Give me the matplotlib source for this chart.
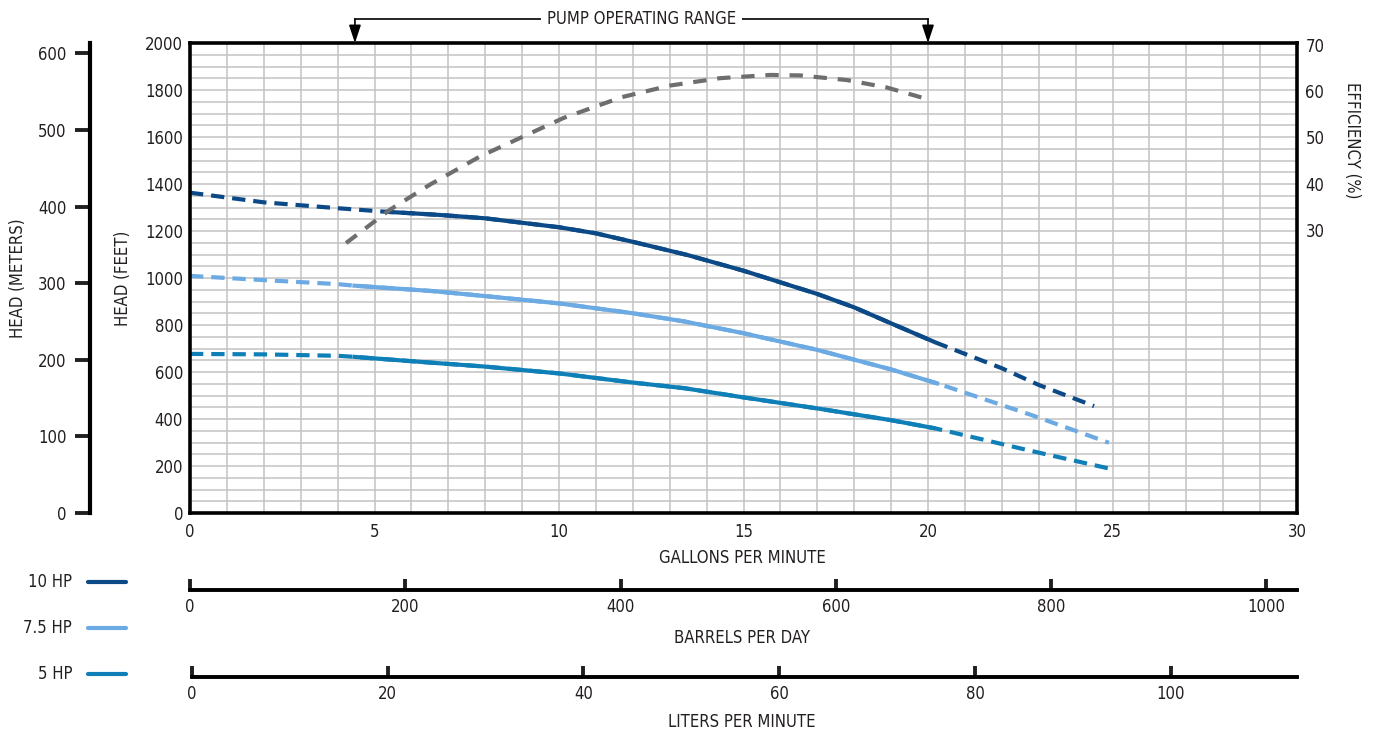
import matplotlib
matplotlib.use('Agg')
import matplotlib.pyplot as plt
import matplotlib.transforms as mtransforms
from matplotlib import font_manager
import numpy as np

''' Chart data (read off the pump curve) '''

# Head curves: flow in gallons per minute, head in feet
hp10_gpm = [0, 2, 4, 5.3, 6.8, 8, 10, 11, 12, 13.5, 15, 17, 18, 19, 20.2, 22, 23, 24.5]
hp10_head = [1363, 1322, 1297, 1282, 1268, 1254, 1216, 1190, 1154, 1097, 1031, 932, 875, 807, 726, 616, 545, 455]

hp75_gpm = [0, 2, 4, 4.4, 6.6, 8, 10, 12, 13.4, 15, 17, 19, 20.3, 22.8, 24.9]
hp75_head = [1009, 991, 974, 968, 944, 923, 892, 850, 815, 765, 694, 611, 549, 417, 299]

hp5_gpm = [0, 2, 4, 4.4, 6.6, 8, 10, 12, 13.4, 15, 17, 19, 20.2, 22.8, 25]
hp5_head = [677, 675, 669, 665, 639, 623, 594, 555, 531, 492, 445, 395, 360, 264, 186]

# Portion of each curve drawn solid (gpm)
hp10_solid = (5.3, 20.2)
hp75_solid = (4.4, 20.3)
hp5_solid = (4.4, 20.2)

# Efficiency curve (%)
eff_gpm = [4.23, 5.42, 6.5, 7.86, 9.03, 10.12, 11.7, 13.0, 14.36, 15.72, 16.53, 17.8, 18.88, 19.97]
eff_pct = [27.2, 34.4, 39.8, 45.9, 50.2, 54.2, 58.7, 61.2, 62.8, 63.5, 63.4, 62.4, 60.8, 58.3]

operating_range = [4.47, 20.0]

legend_labels = ['10 HP', '7.5 HP', '5 HP']
colors = ['#0b4a86', '#6caae4', '#0f7fb8']
eff_color = '#6e6e6e'
text_color = '#231f20'

gpm_ticks = [0, 5, 10, 15, 20, 25, 30]
feet_ticks = [0, 200, 400, 600, 800, 1000, 1200, 1400, 1600, 1800, 2000]
meter_ticks = [0, 100, 200, 300, 400, 500, 600]
eff_ticks = [30, 40, 50, 60, 70]
bpd_ticks = [0, 200, 400, 600, 800, 1000]
lpm_ticks = [0, 20, 40, 60, 80, 100]


''' Font: the original uses a condensed face, take one if there is any '''
installed = font_manager.fontManager.ttflist
names = set(f.name for f in installed)
fsize = 13
if 'Liberation Sans Narrow' in names:
    plt.rcParams['font.family'] = ['Liberation Sans Narrow', 'DejaVu Sans']
elif any(f.name == 'DejaVu Sans' and f.stretch == 'condensed' for f in installed):
    plt.rcParams['font.family'] = ['DejaVu Sans']
    plt.rcParams['font.stretch'] = 'condensed'
    fsize = 12
else:
    plt.rcParams['font.family'] = ['Roboto', 'DejaVu Sans']
    fsize = 11.5
plt.rcParams['font.size'] = fsize
plt.rcParams['text.color'] = text_color
plt.rcParams['xtick.color'] = text_color
plt.rcParams['ytick.color'] = text_color

W, H = 1377, 735
fig = plt.figure(figsize=(W / 100, H / 100), dpi=100)


def box(left, top, right, bottom):
    # pixel box -> figure fraction [l, b, w, h]
    return [left / W, 1 - bottom / H, (right - left) / W, (bottom - top) / H]


def fpos(x, y):
    return x / W, 1 - y / H


''' Main head axes '''
ax = fig.add_axes(box(190, 43, 1297, 513))
ax.set_xlim(0, 30)
ax.set_ylim(0, 2000)
ax.set_xticks(gpm_ticks)
ax.set_xticks(np.arange(0, 31, 1), minor=True)
ax.set_yticks(feet_ticks)
ax.set_yticks(np.arange(0, 2001, 50), minor=True)
ax.grid(which='both', color='#c2c2c2', linewidth=1.1, zorder=0)
ax.tick_params(which='both', length=0)
ax.tick_params(axis='x', pad=7)
ax.tick_params(axis='y', pad=5)
for s in ax.spines.values():
    s.set_linewidth(2.6)
    s.set_color('black')
    s.set_zorder(5)

# Head curves: dashed overall, solid inside the operating part
series = [(hp10_gpm, hp10_head, hp10_solid),
          (hp75_gpm, hp75_head, hp75_solid),
          (hp5_gpm, hp5_head, hp5_solid)]
for (g, h, solid), c in zip(series, colors):
    g = np.array(g)
    h = np.array(h)
    ax.plot(g, h, color=c, lw=3, dashes=(3.2, 1.9), zorder=3)
    m = (g >= solid[0]) & (g <= solid[1])
    ax.plot(g[m], h[m], color=c, lw=3, solid_capstyle='butt',
            solid_joinstyle='round', zorder=4)

# Efficiency on the right
ax2 = ax.twinx()
ax2.set_ylim(-31.1, 70.4)
ax2.set_yticks(eff_ticks)
ax2.tick_params(length=0, pad=6)
for s in ax2.spines.values():
    s.set_visible(False)
ax2.plot(eff_gpm, eff_pct, color=eff_color, lw=3, dashes=(3.2, 2.6), zorder=3)

# Pump operating range marker above the plot
trans = mtransforms.blended_transform_factory(ax.transData, ax.transAxes)
ytop = 1.0511
ax.plot(operating_range, [ytop, ytop], transform=trans, clip_on=False,
        color='black', lw=1.2)
for xr in operating_range:
    ax.annotate('', xy=(xr, 1.0), xytext=(xr, ytop), xycoords=trans, textcoords=trans,
                arrowprops=dict(arrowstyle='-|>,head_length=0.9,head_width=0.3',
                                color='black', lw=1.2, shrinkA=0, shrinkB=0))
ax.text(np.mean(operating_range), ytop, 'PUMP OPERATING RANGE', transform=trans,
        ha='center', va='center',
        bbox=dict(facecolor='white', edgecolor='none', pad=4))

''' Head in meters axis '''
axm = fig.add_axes(box(90, 43, 91, 513))
axm.set_ylim(0, 613.5)
axm.set_yticks(meter_ticks)
axm.set_xticks([])
for k in ['top', 'right', 'bottom']:
    axm.spines[k].set_visible(False)
axm.spines['left'].set_linewidth(3)
axm.patch.set_alpha(0)
axm.tick_params(axis='y', direction='out', length=11, width=2.8, pad=6)

''' Barrels per day and liters per minute axes '''
axb = fig.add_axes(box(190, 580, 1297, 590))
axb.set_xlim(0, 30 * 1440 / 42)
axb.set_xticks(bpd_ticks)
axb.set_yticks([])

axl = fig.add_axes(box(192, 667, 1297, 677))
axl.set_xlim(0, 112.9)
axl.set_xticks(lpm_ticks)
axl.set_yticks([])

for a in [axb, axl]:
    for k in ['top', 'right', 'left']:
        a.spines[k].set_visible(False)
    a.spines['bottom'].set_linewidth(2.8)
    a.patch.set_alpha(0)
    a.tick_params(axis='x', direction='in', length=8, width=2.8, pad=6)

''' Axis titles '''
fig.text(*fpos(742, 558), 'GALLONS PER MINUTE', ha='center', va='center')
fig.text(*fpos(742, 638), 'BARRELS PER DAY', ha='center', va='center')
fig.text(*fpos(742, 722), 'LITERS PER MINUTE', ha='center', va='center')
fig.text(*fpos(123, 278), 'HEAD (FEET)', ha='center', va='center', rotation=90)
fig.text(*fpos(18, 278), 'HEAD (METERS)', ha='center', va='center', rotation=90)
fig.text(*fpos(1352, 140), 'EFFICIENCY (%)', ha='center', va='center', rotation=270)

''' Legend '''
for i, (lab, c) in enumerate(zip(legend_labels, colors)):
    y = 582 + i * 46
    fig.text(*fpos(72, y), lab, ha='right', va='center')
    x0, y0 = fpos(88, y)
    x1, _ = fpos(126, y)
    fig.add_artist(plt.Line2D([x0, x1], [y0, y0], color=c, lw=3,
                              solid_capstyle='round', transform=fig.transFigure))

plt.savefig('out.png', dpi=100)
